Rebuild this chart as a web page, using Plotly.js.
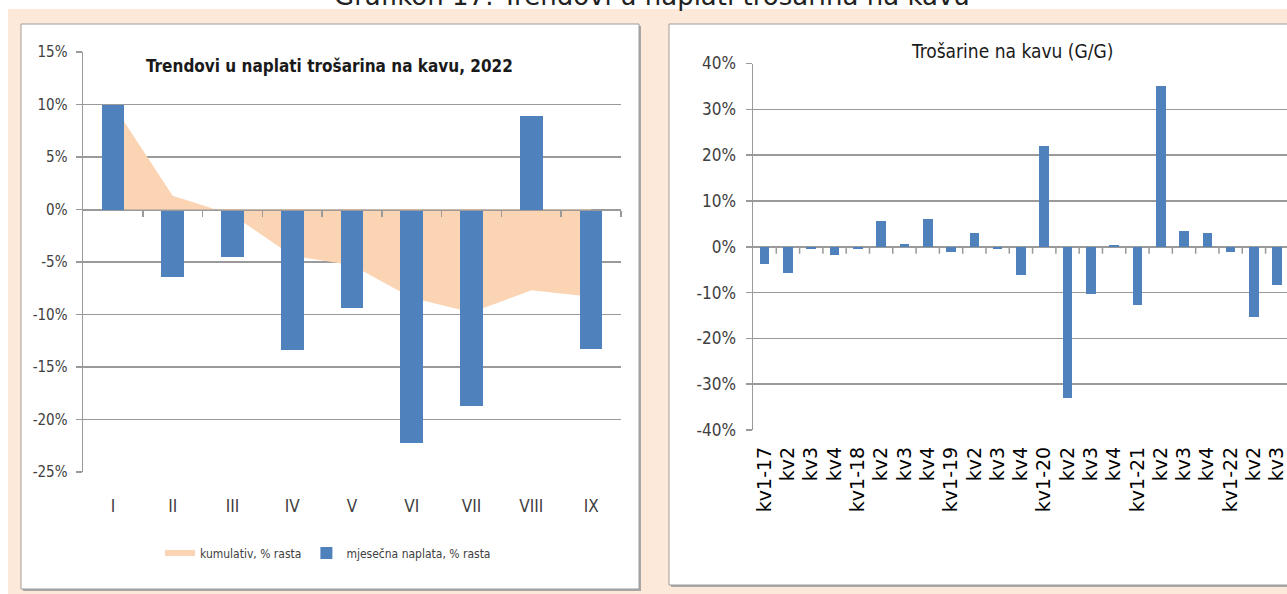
<!DOCTYPE html>
<html>
<head>
<meta charset="utf-8">
<script src="https://cdn.plot.ly/plotly-3.0.1.min.js"></script>
<style>
  html, body { margin: 0; padding: 0; background: #ffffff; }
  #chart { width: 1287px; height: 594px; }
</style>
</head>
<body>
<div id="chart"></div>
<script>
// ---------------- DATA ----------------
const pageTitle = 'Grafikon 17: Trendovi u naplati trošarina na kavu';
const leftTitle = 'Trendovi u naplati trošarina na kavu, 2022';
const rightTitle = 'Trošarine na kavu (G/G)';

const months = ['I', 'II', 'III', 'IV', 'V', 'VI', 'VII', 'VIII', 'IX'];
const monthlyGrowth = [10.0, -6.4, -4.5, -13.4, -9.4, -22.2, -18.7, 8.9, -13.3];
const cumulativeGrowth = [10.0, 1.3, -0.5, -4.4, -5.3, -8.4, -9.8, -7.7, -8.3];
const monthlyName = 'mjesečna naplata, % rasta';
const cumulativeName = 'kumulativ, % rasta';
const leftYTicks = [15, 10, 5, 0, -5, -10, -15, -20, -25];

const quarters = ['kv1-17', 'kv2', 'kv3', 'kv4', 'kv1-18', 'kv2', 'kv3', 'kv4',
                  'kv1-19', 'kv2', 'kv3', 'kv4', 'kv1-20', 'kv2', 'kv3', 'kv4',
                  'kv1-21', 'kv2', 'kv3', 'kv4', 'kv1-22', 'kv2', 'kv3'];
const yoyGrowth = [-3.7, -5.7, -0.5, -1.9, -0.5, 5.6, 0.7, 6.0,
                   -1.2, 2.9, -0.4, -6.2, 22.0, -33.0, -10.4, 0.4,
                   -12.8, 35.1, 3.4, 2.9, -1.2, -15.3, -8.4];
const rightYTicks = [40, 30, 20, 10, 0, -10, -20, -30, -40];

// ---------------- HELPERS ----------------
const W = 1287, H = 594;
const px = x => x / W;
const py = y => 1 - y / H;
const pct = v => v + '%';

const monthIdx = months.map((m, i) => i);
const monthBounds = months.map((m, i) => i + 0.5);
const qIdx = quarters.map((q, i) => i);
const qBounds = quarters.map((q, i) => i + 0.5);

const NARROW = '"Liberation Sans Narrow", "DejaVu Sans Condensed", "Liberation Sans", sans-serif';
const GRID = '#9a9a9a';
const BLUE = '#4F81BD';
const PEACH_AREA = '#FBD4B4';
const PAGE = '#FDE9D9';
const TXT = '#404040';

// plot-area geometry
const L = { x0: px(83), x1: px(621), y0: py(472), y1: py(52), r: [-25, 15], xr: [-0.5, months.length - 0.5] };
const R = { x0: px(753), x1: 1, y0: py(430), y1: py(63.5), r: [-40, 40], xr: [-0.5, 22.42] };
const zeroPos = g => g.y0 + (0 - g.r[0]) / (g.r[1] - g.r[0]) * (g.y1 - g.y0);

// ---------------- TRACES ----------------
const traces = [
  {
    type: 'scatter', name: cumulativeName,
    x: monthIdx, y: cumulativeGrowth,
    mode: 'none', fill: 'tozeroy', fillcolor: PEACH_AREA,
    xaxis: 'x', yaxis: 'y', hoverinfo: 'skip'
  },
  {
    type: 'bar', name: monthlyName,
    x: monthIdx, y: monthlyGrowth, width: 0.38,
    marker: { color: BLUE, line: { width: 0 } },
    xaxis: 'x3', yaxis: 'y3'
  },
  {
    type: 'bar', name: rightTitle, showlegend: false,
    x: qIdx, y: yoyGrowth, width: 0.41,
    marker: { color: BLUE, line: { width: 0 } },
    xaxis: 'x2', yaxis: 'y2'
  }
];

// ---------------- LAYOUT ----------------
const yCommon = {
  showgrid: true, gridcolor: GRID, gridwidth: 1.5,
  zeroline: false, showline: true, linecolor: GRID, linewidth: 1.5,
  ticks: 'outside', ticklen: 6, tickcolor: GRID, tickwidth: 1.5,
  fixedrange: true
};

// tick marks under the zero line of the right chart, one per category boundary
const rightZeroTicks = qBounds.map(b => ({
  type: 'line', xref: 'x2', yref: 'y2', layer: 'above',
  ysizemode: 'pixel', yanchor: 0, y0: 0, y1: -7,
  x0: b, x1: b, line: { color: GRID, width: 1.5 }
}));

const layout = {
  width: W, height: H,
  margin: { l: 0, r: 0, t: 0, b: 0, pad: 0 },
  paper_bgcolor: '#ffffff',
  plot_bgcolor: 'rgba(0,0,0,0)',
  bargap: 0,
  showlegend: true,
  legend: {
    orientation: 'h', x: px(328), xanchor: 'center', y: py(553), yanchor: 'middle',
    font: { family: NARROW, size: 12, color: TXT },
    bgcolor: 'rgba(0,0,0,0)', itemwidth: 30, traceorder: 'normal'
  },

  // left chart base axes (area)
  xaxis: {
    domain: [L.x0, L.x1], anchor: 'y', range: L.xr,
    tickmode: 'array', tickvals: monthIdx, ticktext: months,
    showgrid: false, zeroline: false, showline: false, ticks: '',
    tickfont: { family: NARROW, size: 17, color: TXT },
    ticklabelstandoff: 22, fixedrange: true
  },
  yaxis: Object.assign({}, yCommon, {
    domain: [L.y0, L.y1], anchor: 'x', range: L.r,
    tickmode: 'array', tickvals: leftYTicks, ticktext: leftYTicks.map(pct),
    tickfont: { family: NARROW, size: 15, color: TXT },
    ticklabelstandoff: 5
  }),
  // left chart overlay axes (bars + zero axis line with ticks)
  xaxis3: {
    overlaying: 'x', anchor: 'free', position: zeroPos(L), range: L.xr,
    tickmode: 'array', tickvals: monthBounds, showticklabels: false,
    showgrid: false, zeroline: false, showline: true, linecolor: GRID, linewidth: 1.5,
    ticks: 'outside', ticklen: 6, tickcolor: GRID, tickwidth: 1.5, fixedrange: true
  },
  yaxis3: { overlaying: 'y', anchor: 'x3', range: L.r, visible: false, fixedrange: true },

  // right chart axes
  xaxis2: {
    domain: [R.x0, R.x1], anchor: 'y2', range: R.xr,
    tickmode: 'array', tickvals: qIdx, ticktext: quarters, tickangle: -90,
    showgrid: false, zeroline: false, showline: false, ticks: '',
    tickfont: { family: '"DejaVu Sans", sans-serif', size: 19, color: '#000' },
    ticklabelstandoff: 12, ticklabeloverflow: 'allow', fixedrange: true
  },
  yaxis2: Object.assign({}, yCommon, {
    domain: [R.y0, R.y1], anchor: 'x2', range: R.r,
    tickmode: 'array', tickvals: rightYTicks, ticktext: rightYTicks.map(pct),
    tickfont: { family: NARROW, size: 17, color: TXT },
    zeroline: true, zerolinecolor: GRID, zerolinewidth: 1.5,
    ticklabelstandoff: 6
  }),

  shapes: [
    // page frame
    { type: 'rect', xref: 'paper', yref: 'paper', layer: 'below',
      x0: px(8), x1: 1.01, y0: -0.01, y1: py(9), fillcolor: PAGE, line: { width: 0 } },
    // left panel shadow + panel
    { type: 'rect', xref: 'paper', yref: 'paper', layer: 'below',
      x0: px(23), x1: px(641), y0: py(591), y1: py(26), fillcolor: '#a8a8a8', line: { width: 0 } },
    { type: 'rect', xref: 'paper', yref: 'paper', layer: 'below',
      x0: px(21), x1: px(639), y0: py(589), y1: py(24), fillcolor: '#ffffff',
      line: { color: '#9c9c9c', width: 1 } },
    // right panel shadow + panel
    { type: 'rect', xref: 'paper', yref: 'paper', layer: 'below',
      x0: px(671), x1: 1.05, y0: py(587), y1: py(26), fillcolor: '#a8a8a8', line: { width: 0 } },
    { type: 'rect', xref: 'paper', yref: 'paper', layer: 'below',
      x0: px(669), x1: 1.04, y0: py(585), y1: py(24), fillcolor: '#ffffff',
      line: { color: '#9c9c9c', width: 1 } }
  ].concat(rightZeroTicks),

  annotations: [
    { text: pageTitle, xref: 'paper', yref: 'paper', x: px(652), y: py(13),
      xanchor: 'center', yanchor: 'bottom', showarrow: false,
      font: { family: '"DejaVu Sans", sans-serif', size: 26, color: '#222222' } },
    { text: '<b>' + leftTitle + '</b>', xref: 'paper', yref: 'paper', x: px(330), y: py(66),
      xanchor: 'center', yanchor: 'middle', showarrow: false,
      font: { family: NARROW, size: 17, color: '#1a1a1a' } },
    { text: rightTitle, xref: 'paper', yref: 'paper', x: px(1012), y: py(51),
      xanchor: 'center', yanchor: 'middle', showarrow: false,
      font: { family: NARROW, size: 19, color: '#1a1a1a' } }
  ]
};

Plotly.newPlot('chart', traces, layout, { displayModeBar: false, staticPlot: true });
</script>
</body>
</html>
